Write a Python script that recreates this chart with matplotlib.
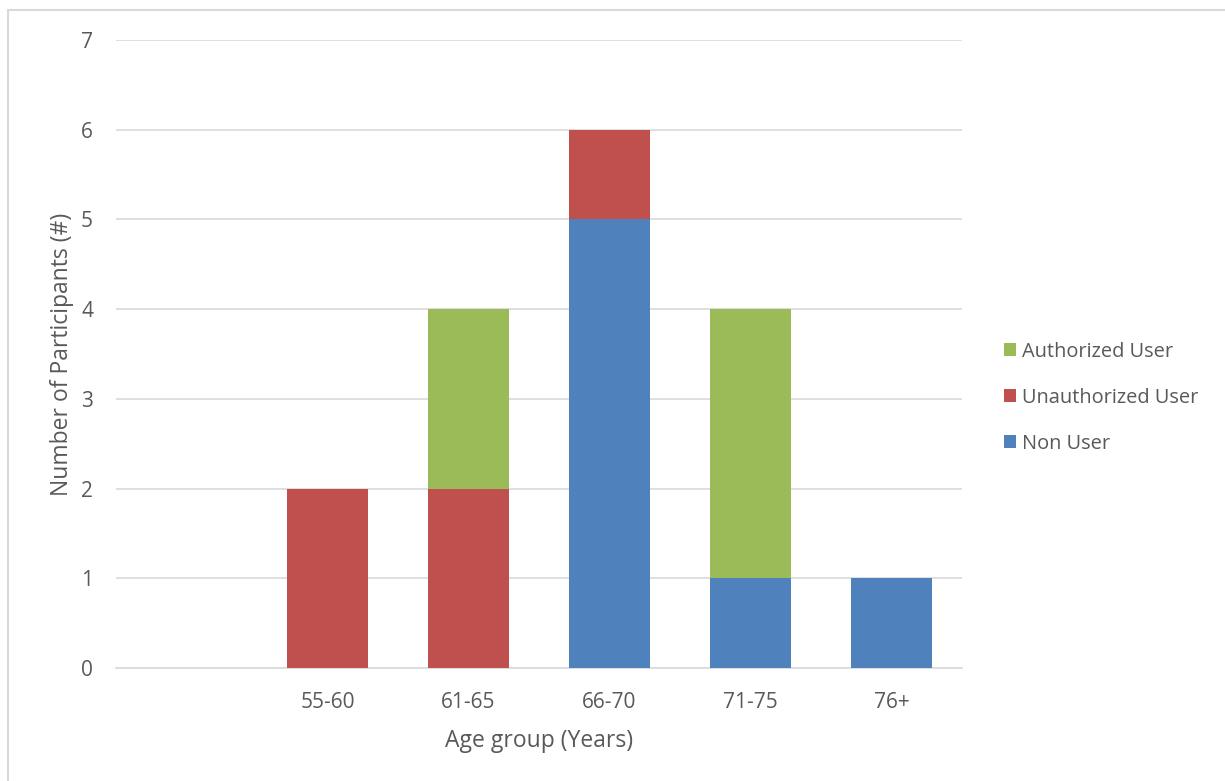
import numpy as np
import matplotlib.pyplot as plt
from matplotlib.patches import Rectangle

# data
categories = ["", "55-60", "61-65", "66-70", "71-75", "76+"]
non_user = [0, 0, 0, 5, 1, 1]
unauthorized = [0, 2, 2, 1, 0, 0]
authorized = [0, 0, 2, 0, 3, 0]

txt = '#595959'
plt.rcParams['font.family'] = ['Open Sans', 'DejaVu Sans']

W, H = 1225, 781
fig = plt.figure(figsize=(W / 100, H / 100), dpi=100)
ax = fig.add_axes([116 / W, 1 - 668 / H, (962 - 116) / W, (668 - 40) / H])

x = np.arange(len(categories))
bw = 0.575
bot2 = np.array(non_user)
bot3 = bot2 + np.array(unauthorized)
ax.bar(x, non_user, bw, color='#4F81BD', label='Non User', zorder=3)
ax.bar(x, unauthorized, bw, bottom=bot2, color='#C0504D', label='Unauthorized User', zorder=3)
ax.bar(x, authorized, bw, bottom=bot3, color='#9BBB59', label='Authorized User', zorder=3)

ax.set_xlim(-0.5, len(categories) - 0.5)
ax.set_ylim(0, 7)
ax.set_yticks(range(8))
ax.yaxis.grid(True, color='#D9D9D9', linewidth=1.2, zorder=0)
for s in ['top', 'right', 'left']:
    ax.spines[s].set_visible(False)
ax.spines['bottom'].set_color('#D9D9D9')
ax.spines['bottom'].set_linewidth(1.2)
ax.set_xticks(x)
ax.set_xticklabels(categories)
ax.tick_params(axis='both', length=0, labelsize=15, colors=txt)
ax.tick_params(axis='y', pad=16.5)
ax.tick_params(axis='x', pad=17.5)

ax.set_xlabel('Age group (Years)', fontsize=16.5, color=txt, labelpad=11)
ax.set_ylabel('Number of Participants (#)', fontsize=16.5, color=txt, labelpad=5)

h, l = ax.get_legend_handles_labels()
leg = fig.legend(h[::-1], l[::-1], loc='center left', bbox_to_anchor=(986 / W, 1 - 398 / H),
                 frameon=False, fontsize=14.4, handlelength=0.62, handleheight=0.62,
                 handletextpad=0.3, labelspacing=1.3, labelcolor=txt)

fig.patches.append(Rectangle((8 / W, -0.1), 1.2, 1 - 10 / H + 0.1, transform=fig.transFigure,
                             fill=False, edgecolor='#D9D9D9', linewidth=1.5))

fig.savefig('out.png', dpi=100)
